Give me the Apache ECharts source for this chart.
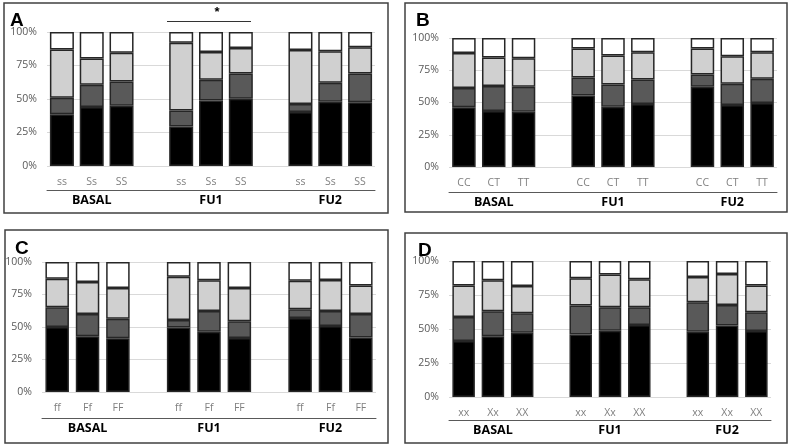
<!DOCTYPE html>
<html><head><meta charset="utf-8">
<script src="https://cdn.jsdelivr.net/npm/echarts@6/dist/echarts.min.js"></script>
<style>html,body{margin:0;padding:0;background:#fff}#c{width:789px;height:448px}</style>
</head><body><div id="c"></div>
<script>
// ---- data ----
const groups = ['BASAL', 'FU1', 'FU2'];
const genoA = ['ss', 'Ss', 'SS'];
const genoB = ['CC', 'CT', 'TT'];
const genoC = ['ff', 'Ff', 'FF'];
const genoD = ['xx', 'Xx', 'XX'];
const yTicks = [0, 25, 50, 75, 100];

// segment sizes (%), order: BASAL x3, FU1 x3, FU2 x3
const blackA = [38.6, 44.0, 45.0, 29.5, 48.8, 50.2, 40.3, 48.0, 47.5];
const darkA  = [12.4, 16.7, 18.0, 12.0, 15.6, 18.8, 6.0, 14.2, 21.5];
const lightA = [36.0, 19.6, 21.6, 50.5, 20.6, 19.0, 40.3, 23.4, 19.6];
const whiteA = [13.0, 19.7, 15.4, 8.0, 15.0, 12.0, 13.4, 14.4, 11.4];

const blackB = [46.3, 43.4, 42.9, 55.5, 46.8, 48.8, 62.2, 48.0, 49.6];
const darkB  = [14.9, 19.3, 19.3, 13.9, 17.2, 19.1, 9.5, 16.5, 18.8];
const lightB = [27.2, 22.1, 22.1, 22.4, 22.4, 21.0, 20.1, 21.4, 20.5];
const whiteB = [11.6, 15.2, 15.7, 8.2, 13.6, 11.1, 8.2, 14.1, 11.1];

const blackC = [50.0, 42.8, 41.3, 49.7, 46.4, 41.5, 57.0, 50.8, 42.0];
const darkC  = [15.1, 17.2, 15.1, 5.7, 15.9, 12.9, 6.6, 11.5, 18.0];
const lightC = [22.1, 24.6, 23.6, 33.3, 23.6, 25.6, 22.0, 23.9, 22.0];
const whiteC = [12.8, 15.4, 20.0, 11.3, 14.1, 20.0, 14.4, 13.8, 18.0];

const blackD = [41.2, 44.6, 47.3, 46.0, 48.8, 53.0, 48.0, 52.5, 48.5];
const darkD  = [17.6, 18.4, 14.2, 21.2, 17.2, 13.0, 21.6, 15.1, 13.8];
const lightD = [23.1, 22.8, 20.1, 20.1, 24.0, 20.5, 18.6, 22.8, 19.7];
const whiteD = [18.1, 14.2, 18.4, 12.7, 10.0, 13.5, 11.8, 9.6, 18.0];

// ---- layout ----
const panels = [
  {letter:'A', geno:genoA, vals:[blackA,darkA,lightA,whiteA], grid:{left:47, top:32, width:328, height:134}, bw:24, groupOff:24,
   box:[4,3,384,210], letterPos:[10,11]},
  {letter:'B', geno:genoB, vals:[blackB,darkB,lightB,whiteB], grid:{left:449, top:38, width:328, height:129}, bw:23.5, groupOff:25,
   box:[405,3,382,209], letterPos:[416,11]},
  {letter:'C', geno:genoC, vals:[blackC,darkC,lightC,whiteC], grid:{left:42, top:262, width:334, height:130}, bw:23.5, groupOff:26,
   box:[5,230,383,213], letterPos:[15,239]},
  {letter:'D', geno:genoD, vals:[blackD,darkD,lightD,whiteD], grid:{left:449, top:261, width:322, height:136}, bw:22.5, groupOff:23,
   box:[405,233,382,210], letterPos:[418,241]}
];
const segColors = ['#000000', '#595959', '#d0d0d0', '#ffffff'];
const segNames = ['black', 'dark', 'light', 'white'];

function withGaps(arr, gap) {
  const out = [];
  arr.forEach((v, i) => { if (i > 0 && i % 3 === 0) out.push(gap); out.push(v); });
  return out;
}
function groupCats() {
  const out = [];
  groups.forEach((g, i) => { if (i > 0) out.push(''); out.push('', g, ''); });
  return out;
}

const grid = [], xAxis = [], yAxis = [], series = [], graphic = [];
panels.forEach((p, pi) => {
  grid.push(p.grid);
  const cats = withGaps(groups.flatMap(() => p.geno), '');
  xAxis.push({
    type:'category', gridIndex:pi, data:cats,
    axisLine:{show:false}, axisTick:{show:false},
    axisLabel:{interval:0, margin:11, color:'#7f7f7f', fontSize:10.5, fontFamily:'Open Sans'}
  });
  xAxis.push({
    type:'category', gridIndex:pi, position:'bottom', offset:p.groupOff, data:groupCats(),
    axisLine:{show:true, lineStyle:{color:'#595959', width:1}}, axisTick:{show:false},
    axisLabel:{interval:0, margin:4, color:'#000', fontSize:12.5, fontWeight:'bold', fontFamily:'Open Sans'}
  });
  yAxis.push({
    type:'value', gridIndex:pi, min:yTicks[0], max:yTicks[yTicks.length-1], interval:25,
    axisLine:{show:false}, axisTick:{show:false},
    splitLine:{show:true, lineStyle:{color:'#d9d9d9', width:1}},
    axisLabel:{formatter:'{value}%', margin:10, color:'#595959', fontSize:10.5, fontFamily:'Open Sans'}
  });
  p.vals.forEach((arr, si) => {
    series.push({
      type:'bar', name:p.letter + segNames[si], xAxisIndex:pi*2, yAxisIndex:pi, stack:'s' + pi,
      barWidth:p.bw, data:withGaps(arr, '-'),
      itemStyle:{color:segColors[si], borderColor:'#262626', borderWidth:1.5},
      silent:true, animation:false
    });
  });
  graphic.push({type:'rect', shape:{x:p.box[0], y:p.box[1], width:p.box[2], height:p.box[3]},
    style:{fill:null, stroke:'#404040', lineWidth:1.5}, z:100});
  graphic.push({type:'text', x:p.letterPos[0], y:p.letterPos[1],
    style:{text:p.letter, font:'bold 19px "Liberation Sans"', fill:'#000'}, z:100});
});
// significance marker in panel A
graphic.push({type:'line', shape:{x1:167, y1:21.5, x2:251, y2:21.5}, style:{stroke:'#333', lineWidth:1.2}, z:100});
graphic.push({type:'text', x:217, y:12, style:{text:'*', font:'bold 13px "Liberation Sans"', fill:'#000', align:'center', verticalAlign:'middle'}, z:100});

const chart = echarts.init(document.getElementById('c'), null, {renderer:'canvas'});
chart.setOption({animation:false, grid, xAxis, yAxis, series, graphic});
</script></body></html>
